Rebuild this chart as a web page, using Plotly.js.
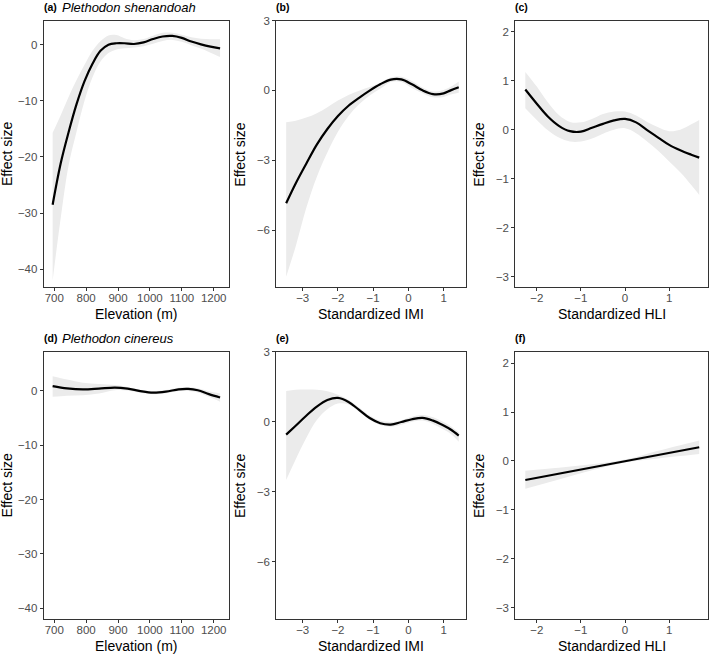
<!DOCTYPE html>
<html>
<head>
<meta charset="utf-8">
<script src="https://cdn.plot.ly/plotly-3.0.1.min.js"></script>
<style>
  html, body { margin: 0; padding: 0; background: #fff; }
  #chart { width: 709px; height: 654px; }
</style>
</head>
<body>
<div id="chart"></div>
<script>
// ---- Plethodon shenandoah ----
// (a) elevation smooth
const elevA = [695, 720, 745, 770, 795, 820, 845, 870, 895, 920, 950, 980, 1010, 1040, 1070, 1100, 1130, 1160, 1190, 1220];
const fitA = [-28.5, -21.2, -15.6, -10.6, -6.5, -3.4, -1.1, 0.0, 0.25, 0.25, 0.12, 0.4, 1.0, 1.45, 1.55, 1.2, 0.55, 0.05, -0.35, -0.65];
const upA = [-15.7, -12.6, -9.3, -6.3, -3.6, -1.1, 0.6, 1.65, 1.7, 1.15, 0.8, 1.0, 1.6, 2.1, 2.1, 1.75, 1.3, 1.05, 0.95, 0.95];
const loA = [-42.0, -31.0, -21.5, -15.5, -10.0, -5.8, -3.0, -1.5, -0.85, -0.65, -0.5, -0.3, 0.15, 0.65, 0.85, 0.5, -0.1, -0.7, -1.45, -2.2];

// (b) IMI smooth
const imiB = [-3.47, -3.2, -2.9, -2.6, -2.3, -2.0, -1.7, -1.4, -1.1, -0.8, -0.5, -0.2, 0.1, 0.4, 0.7, 1.0, 1.2, 1.43];
const fitB = [-4.85, -4.0, -3.15, -2.33, -1.66, -1.1, -0.66, -0.32, -0.01, 0.26, 0.46, 0.47, 0.26, 0.0, -0.16, -0.13, 0.0, 0.13];
const upB = [-1.37, -1.3, -1.17, -0.98, -0.72, -0.44, -0.2, -0.02, 0.14, 0.33, 0.55, 0.58, 0.4, 0.12, -0.05, 0.02, 0.15, 0.38];
const loB = [-8.0, -6.7, -5.05, -3.72, -2.67, -1.78, -1.1, -0.6, -0.22, 0.07, 0.36, 0.36, 0.1, -0.12, -0.3, -0.28, -0.18, -0.1];

// (c) HLI smooth
const hliC = [-2.26, -2.0, -1.75, -1.5, -1.25, -1.0, -0.75, -0.5, -0.25, 0.0, 0.25, 0.5, 0.75, 1.0, 1.25, 1.5, 1.68];
const fitC = [0.82, 0.53, 0.27, 0.08, -0.03, -0.04, 0.04, 0.12, 0.19, 0.22, 0.15, -0.01, -0.16, -0.31, -0.42, -0.51, -0.57];
const upC = [1.18, 0.88, 0.56, 0.3, 0.16, 0.15, 0.22, 0.32, 0.37, 0.37, 0.29, 0.16, 0.05, -0.03, 0.0, 0.11, 0.2];
const loC = [0.44, 0.2, -0.01, -0.16, -0.24, -0.24, -0.18, -0.08, 0.0, 0.03, -0.07, -0.24, -0.43, -0.65, -0.87, -1.13, -1.33];

// ---- Plethodon cinereus ----
// (d) elevation smooth
const elevD = [695, 740, 790, 840, 890, 930, 970, 1010, 1050, 1090, 1120, 1150, 1185, 1220];
const fitD = [0.87, 0.45, 0.25, 0.4, 0.6, 0.4, -0.05, -0.33, -0.15, 0.27, 0.35, 0.1, -0.6, -1.22];
const upD = [2.7, 2.1, 1.5, 1.25, 1.05, 0.7, 0.2, -0.05, 0.15, 0.55, 0.68, 0.45, -0.1, -0.5];
const loD = [-1.1, -0.92, -0.8, -0.5, 0.1, 0.05, -0.35, -0.62, -0.45, -0.05, -0.05, -0.3, -1.1, -2.0];

// (e) IMI smooth
const imiE = [-3.47, -3.2, -2.9, -2.6, -2.3, -2.0, -1.7, -1.4, -1.1, -0.8, -0.5, -0.2, 0.1, 0.4, 0.7, 1.0, 1.2, 1.43];
const fitE = [-0.56, -0.18, 0.25, 0.64, 0.92, 1.01, 0.84, 0.5, 0.15, -0.07, -0.13, -0.02, 0.1, 0.16, 0.04, -0.17, -0.34, -0.6];
const upE = [1.31, 1.36, 1.37, 1.36, 1.3, 1.15, 0.93, 0.6, 0.26, 0.04, -0.02, 0.06, 0.21, 0.28, 0.18, -0.02, -0.2, -0.46];
const loE = [-2.5, -1.62, -0.7, 0.07, 0.53, 0.77, 0.73, 0.42, 0.08, -0.15, -0.22, -0.14, -0.01, 0.04, -0.1, -0.34, -0.52, -0.86];

// (f) HLI linear fit
const hliF = [-2.26, -1.5, -0.75, 0.0, 0.75, 1.68];
const fitF = [-0.39, -0.26, -0.13, 0.0, 0.13, 0.28];
const upF = [-0.2, -0.14, -0.07, 0.03, 0.21, 0.42];
const loF = [-0.57, -0.38, -0.19, -0.03, 0.05, 0.14];

// axis titles and panel labels
const panelTags = ['(a)', '(b)', '(c)', '(d)', '(e)', '(f)'];
const speciesNames = ['Plethodon shenandoah', 'Plethodon cinereus'];
const xTitles = ['Elevation (m)', 'Standardized IMI', 'Standardized HLI'];
const yTitle = 'Effect size';

// tick positions
const elevTicks = [700, 800, 900, 1000, 1100, 1200];
const elevYTicks = [0, -10, -20, -30, -40];
const imiTicks = [-3, -2, -1, 0, 1];
const imiYTicks = [3, 0, -3, -6];
const hliTicks = [-2, -1, 0, 1];
const hliYTicks = [2, 1, 0, -1, -2, -3];

const FONT = 'Liberation Sans, Arial, Helvetica, sans-serif';
const W = 709, H = 654;
const RIBBON = '#EBEBEB';

// panel geometry in page pixels
const cols = [[43.7, 228.7], [276.3, 466], [515.3, 708]];
const rows = [[20.5, 287.3], [351.5, 619]];
const xdom = c => [c[0] / W, c[1] / W];
const ydom = r => [1 - r[1] / H, 1 - r[0] / H];

const panels = [
  {x: elevA, fit: fitA, up: upA, lo: loA, xr: [667, 1247], yr: [-43.2, 4.3], xt: elevTicks, yt: elevYTicks, col: 0, row: 0, shape: 'spline'},
  {x: imiB, fit: fitB, up: upB, lo: loB, xr: [-3.75, 1.636], yr: [-8.456, 3.0], xt: imiTicks, yt: imiYTicks, col: 1, row: 0, shape: 'spline'},
  {x: hliC, fit: fitC, up: upC, lo: loC, xr: [-2.487, 1.879], yr: [-3.216, 2.229], xt: hliTicks, yt: hliYTicks, col: 2, row: 0, shape: 'spline'},
  {x: elevD, fit: fitD, up: upD, lo: loD, xr: [667, 1247], yr: [-41.96, 7.23], xt: elevTicks, yt: elevYTicks, col: 0, row: 1, shape: 'spline'},
  {x: imiE, fit: fitE, up: upE, lo: loE, xr: [-3.75, 1.636], yr: [-8.456, 3.0], xt: imiTicks, yt: imiYTicks, col: 1, row: 1, shape: 'spline'},
  {x: hliF, fit: fitF, up: upF, lo: loF, xr: [-2.487, 1.879], yr: [-3.231, 2.237], xt: hliTicks, yt: hliYTicks, col: 2, row: 1, shape: 'linear'}
];

const traces = [];
const layout = {
  width: W, height: H,
  margin: {l: 0, r: 0, t: 0, b: 0},
  paper_bgcolor: '#fff', plot_bgcolor: '#fff',
  showlegend: false,
  font: {family: FONT},
  annotations: []
};

function axisStyle(range, ticks, domain, anchor, standoff) {
  return {
    range: range, tickvals: ticks, domain: domain, anchor: anchor,
    showgrid: false, zeroline: false,
    showline: true, mirror: true, linecolor: '#333333', linewidth: 1,
    ticks: 'outside', ticklen: 3, tickwidth: 1, tickcolor: '#333333',
    ticklabelstandoff: standoff,
    tickfont: {family: FONT, size: 11.5, color: '#4D4D4D'},
    fixedrange: true
  };
}

panels.forEach((p, i) => {
  const n = i + 1;
  const xa = n === 1 ? 'x' : 'x' + n;
  const ya = n === 1 ? 'y' : 'y' + n;
  traces.push({x: p.x, y: p.lo, xaxis: xa, yaxis: ya, mode: 'lines', line: {width: 0, shape: 'spline'}, hoverinfo: 'skip'});
  traces.push({x: p.x, y: p.up, xaxis: xa, yaxis: ya, mode: 'lines', line: {width: 0, shape: 'spline'}, fill: 'tonexty', fillcolor: RIBBON, hoverinfo: 'skip'});
  traces.push({x: p.x, y: p.fit, xaxis: xa, yaxis: ya, mode: 'lines', line: {color: '#000000', width: 2.2, shape: p.shape}});

  const xKey = n === 1 ? 'xaxis' : 'xaxis' + n;
  const yKey = n === 1 ? 'yaxis' : 'yaxis' + n;
  layout[xKey] = axisStyle(p.xr, p.xt, xdom(cols[p.col]), ya, -3);
  layout[yKey] = axisStyle(p.yr, p.yt, ydom(rows[p.row]), xa, 0);

  const c = cols[p.col], r = rows[p.row];
  // panel tag
  layout.annotations.push({
    text: '<b>' + panelTags[i] + '</b>', xref: 'paper', yref: 'paper',
    x: (c[0] - 2) / W, y: 1 - (r[0] - 13.5) / H, xanchor: 'left', yanchor: 'middle',
    showarrow: false, font: {family: FONT, size: 10.5, color: '#000'}
  });
  // x-axis title
  layout.annotations.push({
    text: xTitles[p.col], xref: 'paper', yref: 'paper',
    x: (c[0] + c[1]) / 2 / W, y: 1 - (r[1] + 27) / H, xanchor: 'center', yanchor: 'middle',
    showarrow: false, font: {family: FONT, size: 14, color: '#000'}
  });
  // y-axis title
  layout.annotations.push({
    text: yTitle, xref: 'paper', yref: 'paper', textangle: -90,
    x: (c[0] - 36.5) / W, y: 1 - (r[0] + r[1]) / 2 / H, xanchor: 'center', yanchor: 'middle',
    showarrow: false, font: {family: FONT, size: 14, color: '#000'}
  });
});

// species names beside the first-column tags
speciesNames.forEach((name, k) => {
  const r = rows[k];
  layout.annotations.push({
    text: '<i>' + name + '</i>', xref: 'paper', yref: 'paper',
    x: 59.5 / W, y: 1 - (r[0] - 13.5) / H, xanchor: 'left', yanchor: 'middle',
    showarrow: false, font: {family: FONT, size: 13, color: '#000'}
  });
});

Plotly.newPlot('chart', traces, layout, {displayModeBar: false, staticPlot: true});
</script>
</body>
</html>
